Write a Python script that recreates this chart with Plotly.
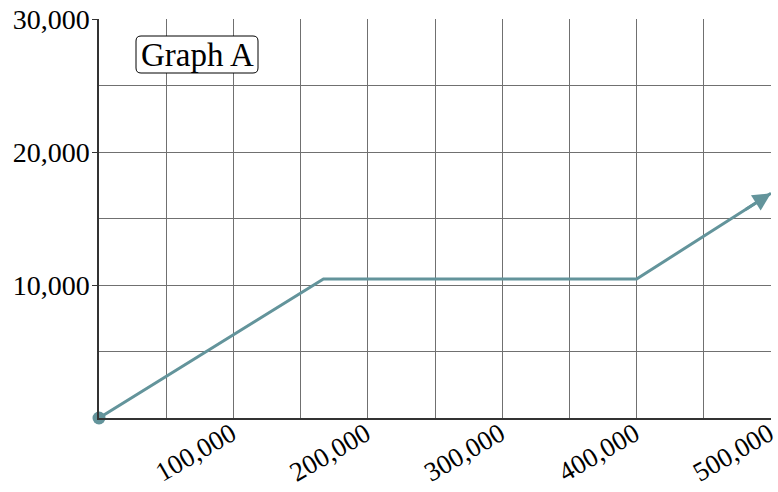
import plotly.graph_objects as go

x_vals = [0, 167000, 400000, 500000]
y_vals = [0, 10450, 10450, 16900]
x_ticks = [100000, 200000, 300000, 400000, 500000]
x_labels = ["100,000", "200,000", "300,000", "400,000", "500,000"]
y_ticks = [10000, 20000, 30000]
y_labels = ["10,000", "20,000", "30,000"]
label_text = "Graph A"

line_color = "#63949b"
grid_color = "#707070"
font = dict(family="Liberation Serif", size=28, color="black")
xfont = dict(family="Liberation Serif", size=27, color="black")
boxfont = dict(family="Liberation Serif", size=33, color="black")

fig = go.Figure()
fig.add_trace(go.Scatter(x=x_vals, y=y_vals, mode="lines",
                         line=dict(color=line_color, width=3), hoverinfo="skip"))
fig.add_trace(go.Scatter(x=x_vals[:1], y=y_vals[:1], mode="markers",
                         marker=dict(color=line_color, size=13), cliponaxis=False, hoverinfo="skip"))
# arrowhead at end
fig.add_annotation(x=x_vals[-1], y=y_vals[-1], ax=x_vals[-2] + 0.8 * (x_vals[-1] - x_vals[-2]),
                   ay=y_vals[-2] + 0.8 * (y_vals[-1] - y_vals[-2]),
                   xref="x", yref="y", axref="x", ayref="y", text="",
                   showarrow=True, arrowhead=2, arrowsize=1.2, arrowwidth=3, arrowcolor=line_color)

# rounded label box (pixel-based in paper coords)
W, H = 778, 492
ml, mr, mt, mb = 99, 7, 19, 74
pw, ph = W - ml - mr, H - mt - mb
def px(xp):
    return (xp - ml) / pw
def py(yp):
    return 1 - (yp - mt) / ph
bx0, bx1, by0, by1, r = 136, 258, 36, 73, 5
path = (f"M {px(bx0 + r)},{py(by0)} L {px(bx1 - r)},{py(by0)} "
        f"Q {px(bx1)},{py(by0)} {px(bx1)},{py(by0 + r)} L {px(bx1)},{py(by1 - r)} "
        f"Q {px(bx1)},{py(by1)} {px(bx1 - r)},{py(by1)} L {px(bx0 + r)},{py(by1)} "
        f"Q {px(bx0)},{py(by1)} {px(bx0)},{py(by1 - r)} L {px(bx0)},{py(by0 + r)} "
        f"Q {px(bx0)},{py(by0)} {px(bx0 + r)},{py(by0)} Z")
fig.add_shape(type="path", path=path, xref="paper", yref="paper",
              line=dict(color="black", width=1), fillcolor="white", layer="above")
fig.add_annotation(x=px((bx0 + bx1) / 2), y=py((by0 + by1) / 2 + 1), xref="paper", yref="paper",
                   xanchor="center", yanchor="middle",
                   text=label_text, showarrow=False, font=boxfont)

fig.update_layout(
    width=W, height=H, margin=dict(l=ml, r=mr, t=mt, b=mb, autoexpand=False),
    plot_bgcolor="white", paper_bgcolor="white", showlegend=False, font=font,
)
fig.update_xaxes(range=[0, 500000], tickvals=x_ticks, ticktext=x_labels, tickangle=-30,
                 automargin=False, ticklabeloverflow="allow", ticklabelstandoff=-12,
                 ticklabelshift=-2,
                 showgrid=True, gridcolor=grid_color, gridwidth=1,
                 minor=dict(dtick=50000, tick0=0, showgrid=True, gridcolor=grid_color, gridwidth=1),
                 showline=True, linecolor="#333", linewidth=1.5, zeroline=False,
                 ticks="", tickfont=xfont)
fig.update_yaxes(range=[0, 30000], tickvals=y_ticks, ticktext=y_labels,
                 automargin=False, ticklabelstandoff=-3,
                 showgrid=True, gridcolor=grid_color, gridwidth=1,
                 minor=dict(dtick=5000, tick0=0, showgrid=True, gridcolor=grid_color, gridwidth=1),
                 showline=True, linecolor="#333", linewidth=1.5, zeroline=False,
                 ticks="outside", ticklen=5, tickcolor="#333", tickfont=font)

fig.write_html("out.html", config={"displayModeBar": False},
               post_script="document.body.style.margin='0';document.body.style.overflow='hidden';")
